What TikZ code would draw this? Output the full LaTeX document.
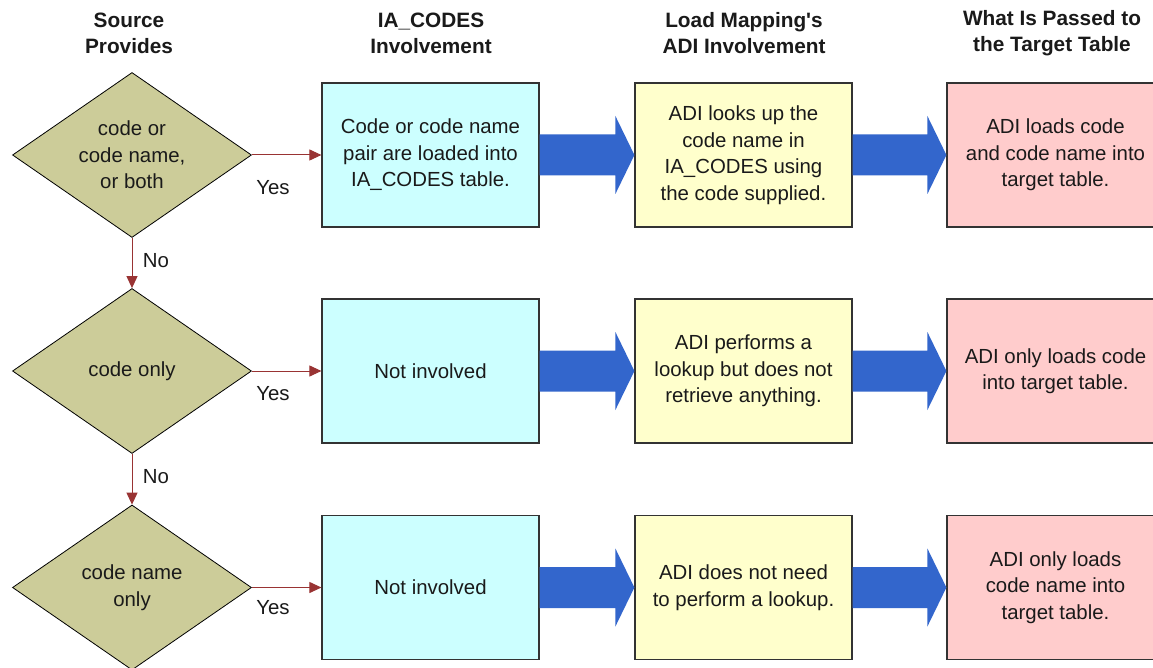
\documentclass[tikz,border=0pt]{standalone}
\usepackage{fontspec}
\setmainfont{Liberation Sans}
\usetikzlibrary{shapes.geometric,arrows.meta,calc}
\definecolor{dfill}{HTML}{CCCC99}
\definecolor{cfill}{HTML}{CCFFFF}
\definecolor{yfill}{HTML}{FFFFCC}
\definecolor{pfill}{HTML}{FFCCCC}
\definecolor{flowc}{HTML}{993333}
\definecolor{bigc}{HTML}{3366CC}
\definecolor{txt}{HTML}{1A1A1A}
\newcommand\fatarrow[2]{%
  \fill[bigc] ($(#1.east)+(0,-20.5)$) -- ($(#2.west)+(-19,-20.5)$) -- ($(#2.west)+(-19,-39)$)
    -- (#2.west) -- ($(#2.west)+(-19,39)$) -- ($(#2.west)+(-19,20.5)$) -- ($(#1.east)+(0,20.5)$) -- cycle;}
\begin{document}
\begin{tikzpicture}[x=1pt,y=-1pt,
  every node/.style={font=\fontsize{20.4pt}{26.5pt}\selectfont, text=txt},
  head/.style={font=\bfseries\fontsize{20.8pt}{26pt}\selectfont, align=center},
  decision/.style={diamond, draw=black, line width=0.8pt, fill=dfill, minimum width=239pt,
    minimum height=165pt, aspect=1.45, inner sep=0pt, align=center},
  box/.style={rectangle, draw=black!80, line width=1.2pt, minimum width=217pt,
    minimum height=144pt, inner sep=0pt, align=center},
  cbox/.style={box, fill=cfill},
  ybox/.style={box, fill=yfill},
  pbox/.style={box, fill=pfill},
  flow/.style={draw=flowc, line width=1pt, -{Triangle[length=12pt,width=11pt]}},
  lbl/.style={inner sep=0pt}
]
\clip (0,0) rectangle (1153,668);
\fill[white] (0,0) rectangle (1153,668);

% headers
\node[head] (h1) at (129,33) {Source\\Provides};
\node[head] (h2) at (431,33) {IA\_CODES\\Involvement};
\node[head] (h3) at (744,33) {Load Mapping\textquotesingle s\\ADI Involvement};
\node[head] (h4) at (1052,33) {What Is Passed to\\the Target Table};

% decisions
\node[decision] (d1) at (132,155) {code or\\code name,\\or both};
\node[decision] (d2) at (132,371) {code only};
\node[decision] (d3) at (132,587.5) {code name\\only};

% row 1
\node[cbox] (c1) at (430.5,155) {Code or code name\\pair are loaded into\\IA\_CODES table.};
\node[ybox] (y1) at (743.5,155) {ADI looks up the\\code name in\\IA\_CODES using\\the code supplied.};
\node[pbox] (p1) at (1055.5,155) {ADI loads code\\and code name into\\target table.};
% row 2
\node[cbox] (c2) at (430.5,371) {Not involved};
\node[ybox] (y2) at (743.5,371) {ADI performs a\\lookup but does not\\retrieve anything.};
\node[pbox] (p2) at (1055.5,371) {ADI only loads code\\into target table.};
% row 3
\node[cbox] (c3) at (430.5,587.5) {Not involved};
\node[ybox] (y3) at (743.5,587.5) {ADI does not need\\to perform a lookup.};
\node[pbox] (p3) at (1055.5,587.5) {ADI only loads\\code name into\\target table.};

% big arrows
\fatarrow{c1}{y1}
\fatarrow{y1}{p1}
\fatarrow{c2}{y2}
\fatarrow{y2}{p2}
\fatarrow{c3}{y3}
\fatarrow{y3}{p3}

% flow connectors
\draw[flow] (d1.east) -- (c1.west);
\draw[flow] (d2.east) -- (c2.west);
\draw[flow] (d3.east) -- (c3.west);
\draw[flow] (d1.south) -- (d2.north);
\draw[flow] (d2.south) -- (d3.north);

% labels
\node[lbl] (yes1) at (273,188) {Yes};
\node[lbl] (yes2) at (273,394) {Yes};
\node[lbl] (yes3) at (273,608) {Yes};
\node[lbl] (no1) at (156,261) {No};
\node[lbl] (no2) at (156,477) {No};
\end{tikzpicture}
\end{document}
